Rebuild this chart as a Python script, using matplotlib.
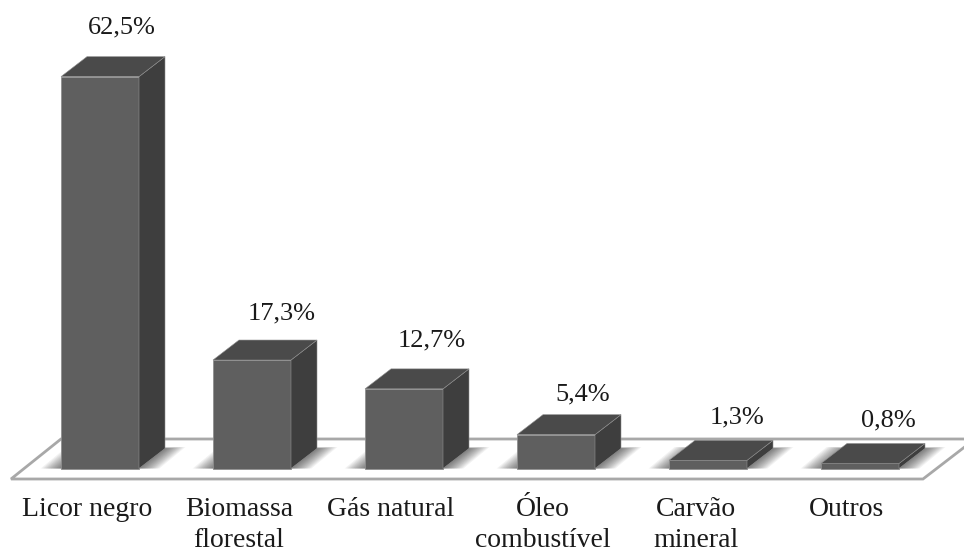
import matplotlib
matplotlib.use('Agg')
import matplotlib.pyplot as plt
from matplotlib.patches import Polygon

categories = ['Licor negro', 'Biomassa\nflorestal', 'Gás natural',
              'Óleo\ncombustível', 'Carvão\nmineral', 'Outros']
values = [62.5, 17.3, 12.7, 5.4, 1.3, 0.8]
value_labels = ['62,5%', '17,3%', '12,7%', '5,4%', '1,3%', '0,8%']

# pixel layout of the original picture
W, H = 964, 552
X0, DX = 100, 152      # centre of first bar, bar spacing
Y0, PY = 468.5, 6.27   # baseline, pixels per percent
BAR_W = 78 / DX
DEPTH_X = 26 / DX
DEPTH_Y = 20 / PY

FRONT = '#5f5f5f'
SIDE = '#3e3e3e'
TOP = '#4a4a4a'
EDGE = '#8f8f8f'
FLOOR = '#a8a8a8'


def px(x):
    return (x - X0) / DX


def py(y):
    return (Y0 - y) / PY


def main():
    plt.rcParams['font.family'] = ['Liberation Serif', 'DejaVu Serif']
    fig = plt.figure(figsize=(W / 100, H / 100), dpi=100)
    ax = fig.add_axes([0, 0, 1, 1])
    ax.set_xlim(px(0), px(W))
    ax.set_ylim(py(H), py(0))
    ax.axis('off')

    # floor
    floor = [(px(11), py(479)), (px(61), py(439)), (px(975), py(439)), (px(923), py(479))]
    ax.add_patch(Polygon(floor, closed=True, fc='white', ec=FLOOR, lw=2, zorder=1,
                         joinstyle='miter'))

    # soft shadows on the floor, stacked thin polygons
    for i in range(len(values)):
        left = i - BAR_W / 2
        right = i + BAR_W / 2
        for k in range(12):
            g = (12 - k) * 1.7 / DX
            lift = (12 - k) * 0.12 / PY
            shadow = [(left - g, 0), (left + DEPTH_X - g, DEPTH_Y + lift),
                      (right + DEPTH_X + g, DEPTH_Y + lift), (right + g, 0)]
            ax.add_patch(Polygon(shadow, closed=True, fc='black', ec='none',
                                 alpha=0.05, zorder=2))

    # bars
    x = list(range(len(values)))
    ax.bar(x, values, width=BAR_W, color=FRONT, edgecolor=EDGE, linewidth=0.6, zorder=4)
    for i, v in zip(x, values):
        left = i - BAR_W / 2
        right = i + BAR_W / 2
        side = [(right, 0), (right + DEPTH_X, DEPTH_Y),
                (right + DEPTH_X, v + DEPTH_Y), (right, v)]
        top = [(left, v), (left + DEPTH_X, v + DEPTH_Y),
               (right + DEPTH_X, v + DEPTH_Y), (right, v)]
        ax.add_patch(Polygon(side, closed=True, fc=SIDE, ec=EDGE, lw=0.4, zorder=4))
        ax.add_patch(Polygon(top, closed=True, fc=TOP, ec=EDGE, lw=0.4, zorder=4))

    # value labels
    label_dx = [22, 30, 28, 27, 29, 28]
    label_dy = [29, 27, 28, 20, 23, 23]
    for i, v in enumerate(values):
        ax.text(i + label_dx[i] / DX, v + DEPTH_Y + label_dy[i] / PY, value_labels[i],
                ha='center', va='center', fontsize=19, color='#1a1a1a', zorder=5)

    # category labels
    cat_dx = [-13, -13, -13, -13, -12, -14]
    for i, c in enumerate(categories):
        ax.text(i + cat_dx[i] / DX, py(497), c, ha='center', va='top', fontsize=20,
                linespacing=1.3, color='#1a1a1a', zorder=5)

    fig.savefig('out.png', dpi=100)


if __name__ == '__main__':
    main()
